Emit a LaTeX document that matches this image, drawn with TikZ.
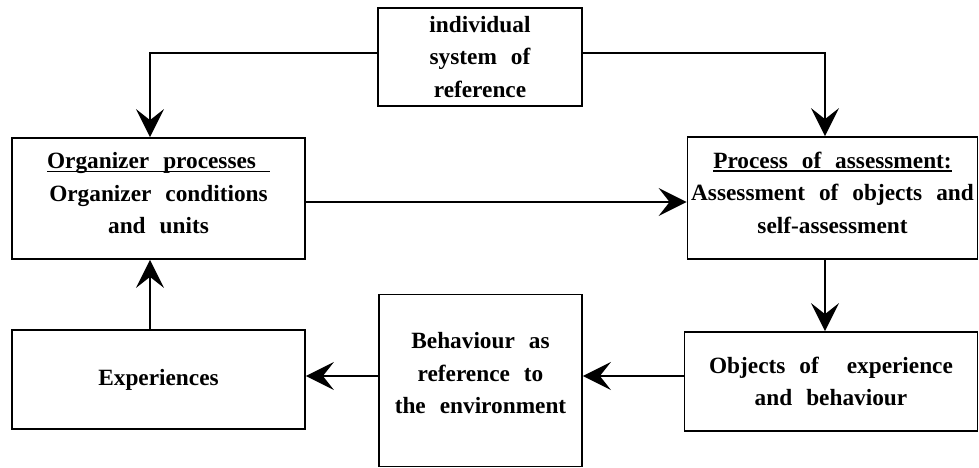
\documentclass[tikz,border=0pt]{standalone}
\usepackage{fontspec}
\setmainfont{Liberation Serif}
\usetikzlibrary{arrows.meta}
\newcommand\ulx[1]{\setbox0\hbox{#1}\rlap{\rule[-3.2pt]{\wd0}{1.3pt}}\box0}
\tikzset{
  box/.style={draw, line width=1.8pt, inner sep=0pt, align=center,
    font={\fontsize{23.3}{32.5}\selectfont\bfseries\spaceskip=0.6em\relax}},
  conn/.style={line width=1.8pt},
  arr/.style={conn, -{Stealth[length=28pt, width=28pt, inset=11pt]}}
}
\begin{document}
\begin{tikzpicture}[x=1pt,y=-1pt]
\useasboundingbox (0,0) rectangle (979,468);
\node[box, minimum width=204pt, minimum height=98pt] (top) at (480,57)
  {individual\\system of\\reference};
\node[box, minimum width=293pt, minimum height=121pt] (org) at (158.5,198.5)
  {\ulx{Organizer processes\ }\\Organizer conditions\\and units\\[-22pt]\mbox{}};
\node[box, minimum width=290pt, minimum height=122pt] (proc) at (832.5,198)
  {\ulx{Process of assessment:}\\Assessment of objects and\\self-assessment\\[-22pt]\mbox{}};
\node[box, minimum width=293pt, minimum height=99pt] (exp) at (158.5,379.5)
  {Experiences};
\node[box, minimum width=203pt, minimum height=172pt] (beh) at (480.5,380.5)
  {Behaviour as\\reference to\\the environment\\[-18pt]\mbox{}};
\node[box, minimum width=293pt, minimum height=99pt] (obj) at (831,381.5)
  {Objects of\hspace{14pt} experience\\and behaviour};
\draw[arr] ([yshift=4pt]top.west) -| ([xshift=-8.5pt]org.north);
\draw[arr] ([yshift=4pt]top.east) -| ([xshift=-7.5pt]proc.north);
\draw[arr] ([yshift=-3.5pt]org.east) -- ([yshift=-3.5pt]org.east -| proc.west);
\draw[arr] ([xshift=-7.5pt]proc.south) -- ([xshift=-7.5pt]proc.south |- obj.north);
\draw[arr] ([yshift=5.5pt]obj.west) -- ([yshift=5.5pt]obj.west -| beh.east);
\draw[arr] ([yshift=4.5pt]beh.west) -- ([yshift=4.5pt]beh.west -| exp.east);
\draw[arr] ([xshift=-8.5pt]exp.north) -- ([xshift=-8.5pt]exp.north |- org.south);
\end{tikzpicture}
\end{document}
